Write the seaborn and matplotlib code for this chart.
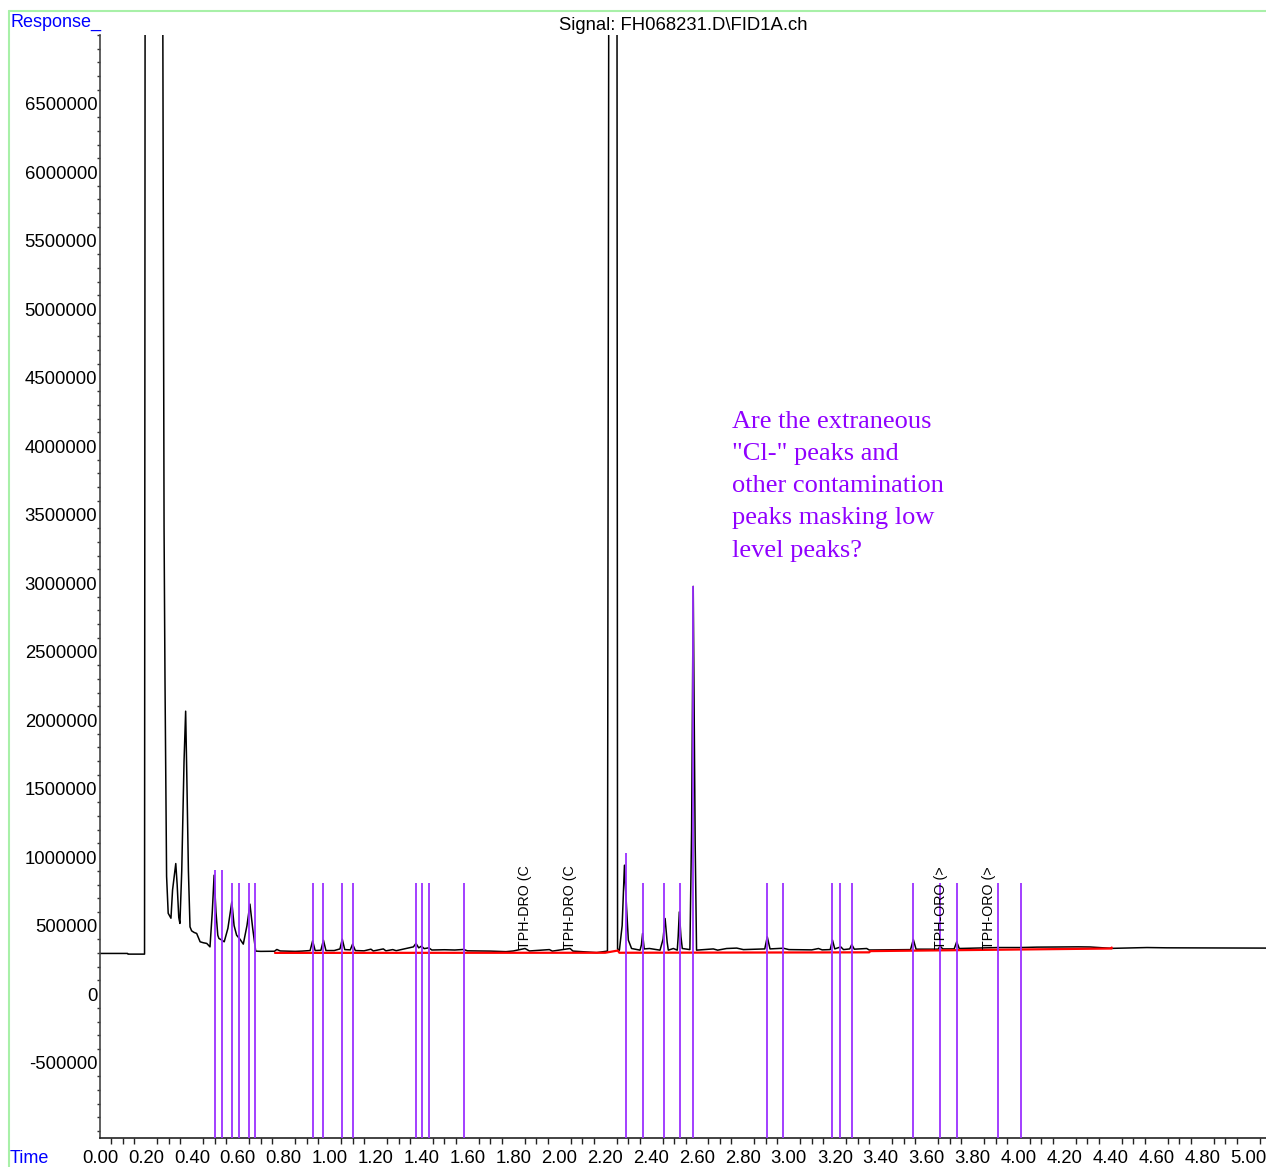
import matplotlib
matplotlib.use("Agg")
import matplotlib.pyplot as plt
import seaborn as sns
from matplotlib.ticker import FixedLocator, MultipleLocator, FuncFormatter
from matplotlib.lines import Line2D

# ---------------------------------------------------------------- data
# FID signal trace (retention time in minutes, detector response)
trace_time = [
    0.000, 0.120, 0.122, 0.194, 0.197, 0.272, 0.273, 0.279, 0.283, 0.290,
    0.297, 0.309, 0.316, 0.330, 0.336, 0.343, 0.348, 0.356, 0.366, 0.373,
    0.378, 0.385, 0.392, 0.399, 0.410, 0.421, 0.436, 0.450, 0.465, 0.479,
    0.489, 0.497, 0.505, 0.513, 0.518, 0.530, 0.541, 0.557, 0.574, 0.584,
    0.595, 0.610, 0.624, 0.640, 0.653, 0.665, 0.678, 0.700, 0.760, 0.770,
    0.785, 0.850, 0.880, 0.915, 0.926, 0.937, 0.962, 0.973, 0.984, 1.020,
    1.035, 1.045, 1.055, 1.066, 1.090, 1.100, 1.112, 1.150, 1.180, 1.190,
    1.234, 1.245, 1.275, 1.290, 1.350, 1.365, 1.376, 1.388, 1.400, 1.412,
    1.432, 1.445, 1.500, 1.545, 1.584, 1.600, 1.700, 1.768, 1.800, 1.851,
    1.870, 1.957, 1.970, 2.047, 2.060, 2.163, 2.210, 2.217, 2.251, 2.254,
    2.262, 2.274, 2.284, 2.293, 2.301, 2.315, 2.352, 2.358, 2.363, 2.370,
    2.393, 2.439, 2.452, 2.461, 2.470, 2.475, 2.497, 2.514, 2.518, 2.523,
    2.530, 2.536, 2.569, 2.5765, 2.5835, 2.592, 2.598, 2.671, 2.690, 2.729,
    2.773, 2.802, 2.895, 2.906, 2.918, 2.976, 3.000, 3.100, 3.129, 3.145,
    3.180, 3.190, 3.200, 3.226, 3.238, 3.265, 3.274, 3.285, 3.339, 3.350,
    3.530, 3.542, 3.554, 3.650, 3.659, 3.670, 3.720, 3.731, 3.742, 3.912,
    4.007, 4.080, 4.260, 4.312, 4.406, 4.560, 4.646, 5.080,
]
trace_response = [
    297000, 297000, 292000, 292000, 9000000, 9000000, 7500000, 3400000, 2300000, 860000,
    590000, 554000, 760000, 953000, 800000, 560000, 516000, 900000, 1700000, 2065000,
    1600000, 900000, 491000, 462000, 450000, 443000, 382000, 375000, 370000, 345000,
    600000, 868000, 600000, 430000, 406000, 395000, 382000, 480000, 673000, 500000,
    430000, 400000, 365000, 500000, 657000, 480000, 314000, 312000, 313000, 326000,
    315000, 312000, 314000, 318000, 389000, 318000, 320000, 394000, 318000, 318000,
    325000, 330000, 401000, 325000, 323000, 365000, 318000, 316000, 328000, 315000,
    330000, 316000, 325000, 317000, 340000, 345000, 370000, 338000, 350000, 332000,
    338000, 322000, 324000, 322000, 326000, 316000, 314000, 310000, 315000, 333000,
    315000, 325000, 314000, 333000, 314000, 303000, 314000, 9000000, 9000000, 330000,
    320000, 500000, 941000, 637000, 394000, 333000, 321000, 360000, 443000, 330000,
    333000, 321000, 400000, 552000, 380000, 321000, 333000, 321000, 420000, 600000,
    420000, 333000, 325000, 1200000, 2976000, 1100000, 321000, 330000, 321000, 333000,
    336000, 325000, 330000, 418000, 330000, 335000, 325000, 323000, 333000, 323000,
    325000, 394000, 330000, 345000, 325000, 330000, 362000, 328000, 333000, 322000,
    325000, 399000, 328000, 328000, 350000, 330000, 330000, 382000, 333000, 340000,
    340000, 343000, 345000, 344000, 334000, 340000, 338000, 336000,
]

# integration baseline
baseline_time = [0.762, 2.200, 2.255, 2.262, 3.350, 3.355, 4.406, 4.406]
baseline_response = [301000, 302000, 318000, 302000, 305000, 314000, 333000, 340000]

# peak event markers (time, top of marker)
marker_time = [
    0.499, 0.531, 0.577, 0.605, 0.650, 0.673, 0.926, 0.973, 1.053, 1.101,
    1.377, 1.402, 1.432, 1.584, 2.289, 2.365, 2.456, 2.526, 2.583, 2.905,
    2.975, 3.188, 3.223, 3.275, 3.541, 3.659, 3.733, 3.911, 4.011,
]
marker_top = [
    905000, 905000, 812000, 812000, 812000, 812000, 812000, 812000, 812000, 812000,
    812000, 812000, 812000, 812000, 1029000, 812000, 812000, 812000, 2976000, 812000,
    812000, 812000, 812000, 812000, 812000, 812000, 812000, 812000, 812000,
]

# compound group labels
group_label_time = [1.851, 2.047, 3.661, 3.872]
group_label_text = ["TPH-DRO (C", "TPH-DRO (C", "TPH-ORO (>", "TPH-ORO (>"]
group_label_base = 330000

y_ticks = list(range(-500000, 6500001, 500000))
x_ticks = [round(0.2 * i, 2) for i in range(26)]

note_lines = [
    "Are the extraneous",
    "\"Cl-\" peaks and",
    "other contamination",
    "peaks masking low",
    "level peaks?",
]

title = "Signal: FH068231.D\\FID1A.ch"

# ---------------------------------------------------------------- figure
sns.set_theme(style="white")
plt.rcParams['font.family'] = ['Liberation Sans', 'DejaVu Sans']

W, H = 1266, 1167
fig = plt.figure(figsize=(W / 100, H / 100), dpi=100)
fig.patch.set_facecolor('white')

ax = fig.add_axes([100 / W, (H - 1138) / H, (W - 100) / W, (1138 - 35) / H])
ax.set_facecolor('white')

x_max = 5.078
y_min, y_max = -1050000, 7000000

# event markers
ax.vlines(marker_time, y_min, marker_top, colors='#9B30FF', lw=1.3, zorder=3)

# signal
sns.lineplot(x=trace_time, y=trace_response, ax=ax, color='black', lw=1.1,
             estimator=None, sort=False, zorder=2)

# baseline
sns.lineplot(x=baseline_time, y=baseline_response, ax=ax, color='#FF0000', lw=1.6,
             estimator=None, sort=False, zorder=2.5)

# group labels
for t, s in zip(group_label_time, group_label_text):
    ax.text(t, group_label_base, s, rotation=90, ha='center', va='bottom',
            fontsize=10.3, color='black', zorder=4)

ax.set_xlim(0, x_max)
ax.set_ylim(y_min, y_max)
ax.set_xlabel("")
ax.set_ylabel("")

for side in ('top', 'right'):
    ax.spines[side].set_visible(False)
ax.spines['left'].set_color('#444444')
ax.spines['bottom'].set_color('#222222')
ax.spines['left'].set_linewidth(1.2)
ax.spines['bottom'].set_linewidth(1.2)

ax.yaxis.set_major_locator(FixedLocator(y_ticks))
ax.yaxis.set_minor_locator(MultipleLocator(100000))
ax.yaxis.set_major_formatter(FuncFormatter(lambda v, p: f"{int(round(v))}"))
ax.xaxis.set_major_locator(FixedLocator(x_ticks))
ax.xaxis.set_minor_locator(MultipleLocator(0.05))
ax.xaxis.set_major_formatter(FuncFormatter(lambda v, p: f"{v:.2f}"))

ax.tick_params(axis='y', which='major', direction='out', length=3.5, width=1,
               pad=-1.5, labelsize=13.3, colors='#333333', labelcolor='black')
ax.tick_params(axis='y', which='minor', direction='out', length=2.5, width=1,
               colors='#333333', left=True)
ax.tick_params(axis='x', which='major', direction='out', length=7, width=1,
               pad=1.5, labelsize=13.3, colors='#222222', labelcolor='black')
ax.tick_params(axis='x', which='minor', direction='out', length=4, width=1,
               colors='#222222', bottom=True)
ax.grid(False)

# header / axis names
fig.text(10 / W, 1 - 14 / H, "Response_", color='#0000FF', fontsize=13,
         ha='left', va='top')
fig.text(10 / W, 1 - 1150 / H, "Time", color='#0000FF', fontsize=13,
         ha='left', va='top')
fig.text(683 / W, 1 - 25 / H, title, color='black', fontsize=13.3,
         ha='center', va='center')

# note
for i, line in enumerate(note_lines):
    fig.text(732 / W, 1 - (427.5 + 32.3 * i) / H, line, color='#9000FF',
             fontsize=19, family=['Liberation Serif', 'DejaVu Serif'],
             ha='left', va='baseline')

# frame
frame_color = '#A8F0A8'
fig.add_artist(Line2D([9 / W, 1.0], [1 - 11 / H, 1 - 11 / H],
                      transform=fig.transFigure, color=frame_color, lw=1.5))
fig.add_artist(Line2D([9 / W, 9 / W], [1 - 11 / H, 0.0],
                      transform=fig.transFigure, color=frame_color, lw=1.5))

fig.savefig("out.png", dpi=100, facecolor='white')
